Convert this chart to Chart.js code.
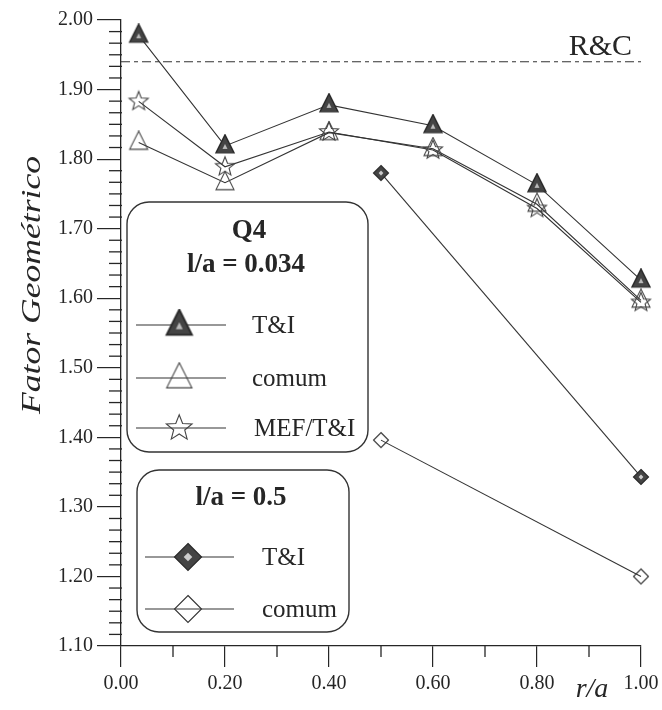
<!DOCTYPE html>
<html>
<head>
<meta charset="utf-8">
<script src="https://cdn.jsdelivr.net/npm/chart.js@4/dist/chart.umd.min.js"></script>
<style>
  html, body { margin: 0; padding: 0; background: #fff; }
  #wrap { width: 662px; height: 710px; }
</style>
</head>
<body>
<div id="wrap"><canvas id="c" width="662" height="710"></canvas></div>
<script>
// --- dados ---
const rA = [0.034, 0.2, 0.4, 0.6, 0.8, 1.0];
const tiQ4 = [1.978, 1.819, 1.878, 1.848, 1.763, 1.626];
const comumQ4 = [1.824, 1.766, 1.838, 1.815, 1.735, 1.597];
const mefQ4 = [1.883, 1.789, 1.839, 1.813, 1.729, 1.594];
const rA05 = [0.5, 1.0];
const ti05 = [1.780, 1.343];
const comum05 = [1.396, 1.200];
const rcX = [0, 1];
const rcY = [1.94, 1.94];
const xTicks = [0, 0.2, 0.4, 0.6, 0.8, 1.0];
const xMinor = [0.1, 0.3, 0.5, 0.7, 0.9];
const yTicks = [1.1, 1.2, 1.3, 1.4, 1.5, 1.6, 1.7, 1.8, 1.9, 2.0];
const Y_MINOR_PER_MAJOR = 6;

const INK = "#262626";
const SERIF = "'Liberation Serif', 'DejaVu Serif', serif";

// marcadores desenhados num canvas pequeno (pointStyle imagem)
function mk(w, h, draw) {
  const c = document.createElement("canvas");
  c.width = w; c.height = h;
  draw(c.getContext("2d"), w, h);
  return c;
}
const triPath = (g, cx, cy, s) => { g.beginPath(); g.moveTo(cx, cy - s * 0.62); g.lineTo(cx + s / 2, cy + s * 0.38); g.lineTo(cx - s / 2, cy + s * 0.38); g.closePath(); };
const diaPath = (g, cx, cy, r) => { g.beginPath(); g.moveTo(cx, cy - r); g.lineTo(cx + r, cy); g.lineTo(cx, cy + r); g.lineTo(cx - r, cy); g.closePath(); };
function starPath(g, cx, cy, R, r) {
  g.beginPath();
  for (let i = 0; i < 10; i++) {
    const a = -Math.PI / 2 + i * Math.PI / 5, rr = i % 2 ? r : R;
    g[i ? "lineTo" : "moveTo"](cx + rr * Math.cos(a), cy + rr * Math.sin(a));
  }
  g.closePath();
}
const M = {
  triFill: (k = 1) => mk(24 * k, 24 * k, (g, w, h) => {
    triPath(g, w / 2, h / 2, 18 * k); g.fillStyle = "#444"; g.fill();
    g.lineWidth = 1.4 * k; g.strokeStyle = "#2a2a2a"; g.stroke();
    triPath(g, w / 2, h / 2 + 1 * k, 5 * k); g.fillStyle = "#bbb"; g.fill();
  }),
  triOpen: (k = 1) => mk(24 * k, 24 * k, (g, w, h) => {
    triPath(g, w / 2, h / 2, 18 * k); g.lineWidth = 1.1; g.strokeStyle = "#444"; g.stroke();
  }),
  star: (k = 1) => mk(24 * k, 24 * k, (g, w, h) => {
    starPath(g, w / 2, h / 2, 10 * k, 4.3 * k); g.lineWidth = 1.1; g.strokeStyle = "#444"; g.stroke();
  }),
  diaFill: (k = 1) => mk(20 * k, 20 * k, (g, w, h) => {
    diaPath(g, w / 2, h / 2, 7.5 * k); g.fillStyle = "#444"; g.fill();
    g.lineWidth = 1.2; g.strokeStyle = "#2a2a2a"; g.stroke();
    diaPath(g, w / 2, h / 2, 2.4 * k); g.fillStyle = "#ccc"; g.fill();
  }),
  diaOpen: (k = 1) => mk(20 * k, 20 * k, (g, w, h) => {
    diaPath(g, w / 2, h / 2, 7.5 * k); g.lineWidth = 1.1; g.strokeStyle = "#333"; g.stroke();
  }),
};

const pts = (xs, ys) => xs.map((x, i) => ({ x, y: ys[i] }));
const series = (label, xs, ys, style) => ({
  label, data: pts(xs, ys), pointStyle: style, pointRadius: 9, borderColor: "#333", borderWidth: 1.1, clip: false,
});

// ticks menores, textos e caixas de legenda
const extras = {
  id: "extras",
  afterDraw(chart) {
    const { ctx, chartArea: a, scales: { x, y } } = chart;
    ctx.save();
    ctx.strokeStyle = INK; ctx.lineWidth = 1.3;
    const n = Math.round((yTicks[yTicks.length - 1] - yTicks[0]) / 0.1) * Y_MINOR_PER_MAJOR;
    for (let i = 1; i < n; i++) {
      if (i % Y_MINOR_PER_MAJOR === 0) continue;
      const py = y.getPixelForValue(yTicks[0] + i * 0.1 / Y_MINOR_PER_MAJOR);
      ctx.beginPath(); ctx.moveTo(a.left - 12, py); ctx.lineTo(a.left + 1, py); ctx.stroke();
    }
    xMinor.forEach((v) => {
      const px = x.getPixelForValue(v);
      ctx.beginPath(); ctx.moveTo(px, a.bottom); ctx.lineTo(px, a.bottom + 11); ctx.stroke();
    });

    ctx.fillStyle = INK;
    // R&C
    ctx.font = "30px " + SERIF; ctx.textAlign = "right"; ctx.textBaseline = "alphabetic";
    ctx.fillText("R&C", 632, 55);
    // título eixo y
    ctx.save();
    ctx.translate(33, 285); ctx.rotate(-Math.PI / 2);
    ctx.font = "italic 27px " + SERIF; ctx.textAlign = "center"; ctx.textBaseline = "middle";
    const tw = ctx.measureText("Fator Geométrico").width;
    ctx.scale(258 / tw, 1);
    ctx.fillText("Fator Geométrico", 0, 0);
    ctx.restore();
    // título eixo x
    ctx.font = "italic 28px " + SERIF; ctx.textAlign = "center"; ctx.textBaseline = "alphabetic";
    ctx.fillText("r/a", 592, 697);

    // legendas
    const box = (l, t, r, b, rad) => {
      ctx.beginPath();
      ctx.moveTo(l + rad, t); ctx.lineTo(r - rad, t); ctx.arcTo(r, t, r, t + rad, rad);
      ctx.lineTo(r, b - rad); ctx.arcTo(r, b, r - rad, b, rad);
      ctx.lineTo(l + rad, b); ctx.arcTo(l, b, l, b - rad, rad);
      ctx.lineTo(l, t + rad); ctx.arcTo(l, t, l + rad, t, rad);
      ctx.closePath();
      ctx.lineWidth = 1.4; ctx.strokeStyle = "#333"; ctx.stroke();
    };
    const entry = (x1, x2, xm, yy, img, tx, label) => {
      ctx.lineWidth = 1.1; ctx.strokeStyle = "#333";
      ctx.beginPath(); ctx.moveTo(x1, yy); ctx.lineTo(x2, yy); ctx.stroke();
      ctx.drawImage(img, xm - img.width / 2, yy - img.height / 2);
      ctx.font = "25px " + SERIF; ctx.textAlign = "left"; ctx.textBaseline = "middle"; ctx.fillStyle = INK;
      ctx.fillText(label, tx, yy + 1);
    };
    box(127, 202, 368, 452, 22);
    ctx.font = "bold 27px " + SERIF; ctx.textAlign = "center"; ctx.textBaseline = "middle";
    ctx.fillText("Q4", 249, 231);
    ctx.fillText("l/a = 0.034", 246, 265);
    entry(136, 226, 179, 325, M.triFill(1.4), 252, "T&I");
    entry(136, 226, 179, 378, M.triOpen(1.4), 252, "comum");
    entry(136, 226, 179, 428, M.star(1.35), 254, "MEF/T&I");

    box(137, 470, 349, 632, 22);
    ctx.font = "bold 27px " + SERIF; ctx.textAlign = "center"; ctx.textBaseline = "middle";
    ctx.fillStyle = INK;
    ctx.fillText("l/a = 0.5", 241, 498);
    entry(145, 234, 188, 557, M.diaFill(1.8), 262, "T&I");
    entry(145, 234, 188, 609, M.diaOpen(1.8), 262, "comum");
    ctx.restore();
  },
};

new Chart(document.getElementById("c"), {
  type: "line",
  data: {
    datasets: [
      series("T&I (l/a = 0.034)", rA, tiQ4, M.triFill()),
      series("MEF/T&I", rA, mefQ4, M.star()),
      series("comum (l/a = 0.034)", rA, comumQ4, M.triOpen()),
      series("T&I (l/a = 0.5)", rA05, ti05, M.diaFill()),
      series("comum (l/a = 0.5)", rA05, comum05, M.diaOpen()),
      { label: "R&C", data: pts(rcX, rcY), pointRadius: 0, borderColor: "#333", borderWidth: 1.2, borderDash: [9, 4, 4, 4], clip: false },
    ],
  },
  options: {
    responsive: false,
    animation: false,
    events: [],
    layout: { padding: { left: 0, right: 21, top: 20, bottom: 0 } },
    plugins: { legend: { display: false }, tooltip: { enabled: false } },
    scales: {
      x: {
        type: "linear", min: xTicks[0], max: xTicks[xTicks.length - 1],
        afterBuildTicks: (s) => { s.ticks = xTicks.map((v) => ({ value: v })); },
        ticks: { callback: (v) => v.toFixed(2), color: INK, font: { family: SERIF, size: 20 }, padding: 5, maxRotation: 0, autoSkip: false },
        grid: { drawOnChartArea: false, tickLength: 21, color: INK, lineWidth: 1.2 },
        border: { color: INK, width: 1.3 },
        afterFit: (s) => { s.height = 64; s.paddingLeft = 0; s.paddingRight = 0; },
      },
      y: {
        min: yTicks[0], max: yTicks[yTicks.length - 1],
        afterBuildTicks: (s) => { s.ticks = yTicks.map((v) => ({ value: v })); },
        ticks: { callback: (v) => v.toFixed(2), color: INK, font: { family: SERIF, size: 20 }, padding: 4, autoSkip: false },
        grid: { drawOnChartArea: false, tickLength: 24, color: INK, lineWidth: 1.2 },
        border: { color: INK, width: 1.3 },
        afterFit: (s) => { s.width = 121; s.paddingTop = 0; s.paddingBottom = 0; },
      },
    },
  },
  plugins: [extras],
});
</script>
</body>
</html>
